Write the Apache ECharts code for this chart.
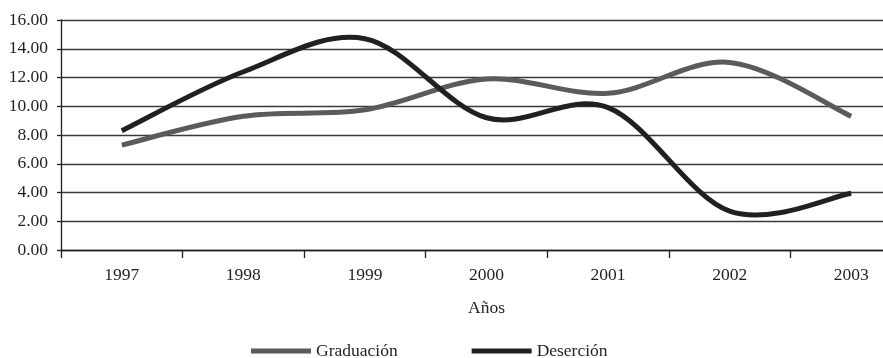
<!DOCTYPE html>
<html>
<head>
<meta charset="utf-8">
<script src="https://cdn.jsdelivr.net/npm/echarts@6/dist/echarts.min.js"></script>
<style>
  html, body { margin: 0; padding: 0; background: #fff; overflow: hidden; }
  /* the plot runs on past the right edge of the window, so the canvas is wider */
  #chart { width: 912px; height: 358px; }
</style>
</head>
<body>
<div id="chart"></div>
<script>
// Years on the horizontal axis
const years = ['1997', '1998', '1999', '2000', '2001', '2002', '2003'];
// Graduation rate per year
const graduacion = [7.3, 9.3, 9.75, 11.9, 10.9, 13.05, 9.3];
// Dropout rate per year
const desercion = [8.3, 12.4, 14.7, 9.2, 9.9, 2.7, 3.95];

const FONT = 'Liberation Serif';
const TEXT = '#231f20';
const chart = echarts.init(document.getElementById('chart'));

// Smooth curve through the points (cubic Bezier segments, Catmull-Rom tangents)
function smoothPath(values, api) {
  const pts = values.map((v, i) => api.coord([i, v]));
  const n = pts.length;
  let d = 'M' + pts[0][0] + ' ' + pts[0][1];
  for (let i = 0; i < n - 1; i++) {
    const p0 = pts[Math.max(i - 1, 0)];
    const p1 = pts[i];
    const p2 = pts[i + 1];
    const p3 = pts[Math.min(i + 2, n - 1)];
    const c1x = p1[0] + (p2[0] - p0[0]) / 6;
    const c1y = p1[1] + (p2[1] - p0[1]) / 6;
    const c2x = p2[0] - (p3[0] - p1[0]) / 6;
    const c2y = p2[1] - (p3[1] - p1[1]) / 6;
    d += ' C' + c1x + ' ' + c1y + ' ' + c2x + ' ' + c2y + ' ' + p2[0] + ' ' + p2[1];
  }
  return d;
}

function curveSeries(name, values, color) {
  return {
    name: name,
    type: 'custom',
    coordinateSystem: 'cartesian2d',
    data: values.map((v, i) => [i, v]),
    encode: { x: 0, y: 1 },
    itemStyle: { color: color },
    clip: false,
    renderItem: function (params, api) {
      if (params.dataIndex !== 0) return null;
      return {
        type: 'path',
        shape: { pathData: smoothPath(values, api) },
        style: { fill: 'none', stroke: color, lineWidth: 5, lineJoin: 'round' }
      };
    }
  };
}

chart.setOption({
  animation: false,
  backgroundColor: '#ffffff',
  textStyle: { fontFamily: FONT, color: TEXT },
  grid: { left: 61, top: 20, right: 0, height: 230, containLabel: false },
  legend: {
    top: 342,
    left: 251,
    padding: 0,
    icon: 'rect',
    itemWidth: 60,
    itemHeight: 5,
    itemGap: 74,
    textStyle: { fontFamily: FONT, fontSize: 17.5, color: TEXT },
    data: ['Graduación', 'Deserción']
  },
  xAxis: {
    type: 'category',
    data: years,
    boundaryGap: true,
    name: 'Años',
    nameLocation: 'middle',
    nameGap: 49,
    nameTextStyle: { fontFamily: FONT, fontSize: 17.5, color: TEXT },
    axisLine: { lineStyle: { color: TEXT, width: 1.3 } },
    axisTick: { show: true, length: 8, lineStyle: { color: TEXT, width: 1.3 } },
    axisLabel: { fontFamily: FONT, fontSize: 17.5, color: TEXT, margin: 16 }
  },
  yAxis: {
    type: 'value',
    min: 0,
    max: 16,
    interval: 2,
    axisLine: { show: true, lineStyle: { color: TEXT, width: 1.3 } },
    axisTick: { show: true, length: 4, lineStyle: { color: TEXT, width: 1.3 } },
    axisLabel: {
      fontFamily: FONT, fontSize: 17.5, color: TEXT, margin: 13,
      formatter: v => v.toFixed(2)
    },
    splitLine: { show: true, lineStyle: { color: '#3a3a3a', width: 1.3 } }
  },
  series: [
    curveSeries('Graduación', graduacion, '#5b5b5b'),
    curveSeries('Deserción', desercion, '#231f20')
  ]
});
</script>
</body>
</html>
